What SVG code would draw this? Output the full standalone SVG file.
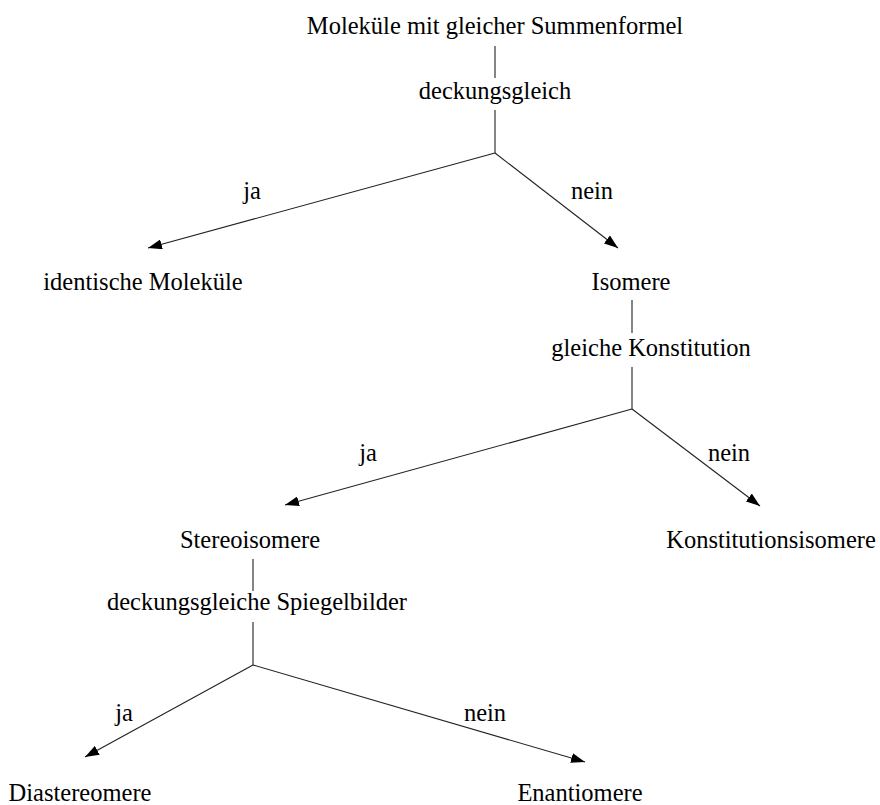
<svg xmlns="http://www.w3.org/2000/svg" width="880" height="805" viewBox="0 0 880 805">
<defs>
<marker id="ah" viewBox="0 0 14 10" refX="14" refY="5" markerWidth="14" markerHeight="10" markerUnits="userSpaceOnUse" orient="auto">
<path d="M0,0 L14,5 L0,10 z" fill="#000"/>
</marker>
<style>
text{font-family:"Liberation Serif","Times New Roman",serif;font-size:24.5px;fill:#000;text-anchor:middle}
.c line{stroke:#222;stroke-width:1.1}
.a{marker-end:url(#ah)}
</style>
</defs>
<rect width="880" height="805" fill="#fff"/>
<g class="c" id="connectors">
<line x1="495" y1="46" x2="495" y2="78"/>
<line x1="495" y1="110" x2="495" y2="153"/>
<line class="a" x1="495" y1="153" x2="148" y2="248"/>
<line class="a" x1="495" y1="153" x2="618" y2="248"/>
<line x1="632" y1="300" x2="632" y2="333"/>
<line x1="632" y1="367" x2="632" y2="409"/>
<line class="a" x1="632" y1="409" x2="285" y2="505"/>
<line class="a" x1="632" y1="409" x2="760" y2="506"/>
<line x1="253" y1="559" x2="253" y2="591"/>
<line x1="253" y1="622" x2="253" y2="665"/>
<line class="a" x1="253" y1="665" x2="85" y2="757"/>
<line class="a" x1="253" y1="665" x2="585" y2="762"/>
</g>
<g id="n-root"><text x="495" y="34">Moleküle mit gleicher Summenformel</text></g>
<g id="q1"><text x="495" y="99">deckungsgleich</text></g>
<g id="l1ja"><text x="252" y="199">ja</text></g>
<g id="l1nein"><text x="592" y="199">nein</text></g>
<g id="n-ident"><text x="143" y="290">identische Moleküle</text></g>
<g id="n-isomere"><text x="631" y="290">Isomere</text></g>
<g id="q2"><text x="651" y="356">gleiche Konstitution</text></g>
<g id="l2ja"><text x="368" y="461">ja</text></g>
<g id="l2nein"><text x="729" y="461">nein</text></g>
<g id="n-stereo"><text x="250" y="548">Stereoisomere</text></g>
<g id="n-konst"><text x="771" y="548">Konstitutionsisomere</text></g>
<g id="q3"><text x="257" y="610">deckungsgleiche Spiegelbilder</text></g>
<g id="l3ja"><text x="124" y="721">ja</text></g>
<g id="l3nein"><text x="485" y="721">nein</text></g>
<g id="n-dia"><text x="80" y="801">Diastereomere</text></g>
<g id="n-enan"><text x="580" y="801">Enantiomere</text></g>
</svg>
